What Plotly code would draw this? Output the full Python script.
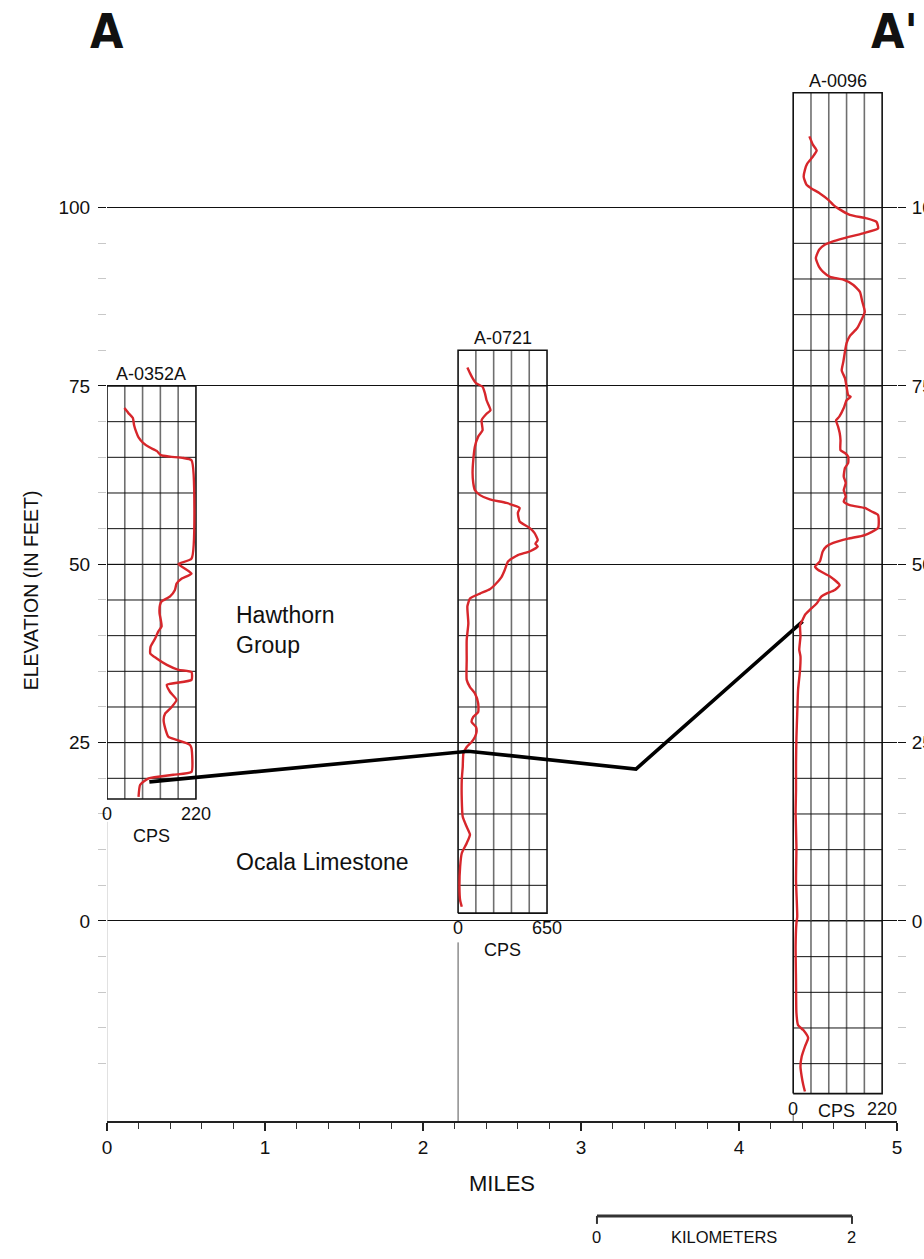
import plotly.graph_objects as go

# ---------------------------------------------------------------------------
# Data
# ---------------------------------------------------------------------------
well_names = ["A-0352A", "A-0721", "A-0096"]
well_miles = [0.0, 2.222, 4.343]          # distance along section (miles)
well_top_ft = [75.0, 80.0, 116.1]         # top of each log panel (feet)
well_bottom_ft = [17.1, 1.1, -24.2]       # bottom of each log panel (feet)
cps_full_scale = [220, 650, 220]          # natural gamma full-scale (CPS)

# Natural gamma log, A-0352A
a0352a_elev = [71.9, 71.2, 70.5, 69.5, 68.6, 67.8, 67.0, 66.4, 65.9, 65.3, 65.1, 64.9,
               64.6, 50.8, 50.05, 48.7, 48.0, 47.3, 46.4, 45.5, 44.8, 44.3, 43.1, 42.2,
               41.3, 40.6, 39.6, 38.5, 37.5, 36.8, 35.9, 35.2, 34.9, 33.8, 33.1, 32.1,
               31.0, 30.0, 29.1, 28.2, 27.0, 25.8, 25.4, 24.7, 24.2, 20.9, 20.5, 20.0,
               19.1, 17.4]
a0352a_cps = [43, 53, 64, 67, 72, 78, 90, 105, 123, 133, 156, 189,
              209, 209, 177, 209, 185, 172, 168, 156, 135, 131, 130, 133,
              135, 127, 119, 108, 107, 123, 148, 177, 209, 209, 148, 156,
              172, 160, 144, 140, 144, 152, 172, 205, 209, 209, 164, 103,
              82, 78]

# Natural gamma log, A-0721
a0721_elev = [77.6, 76.8, 76.1, 75.4, 74.9, 74.0, 73.0, 71.6, 71.1, 70.2, 68.8, 67.9,
              66.5, 64.6, 62.8, 61.4, 60.4, 59.7, 59.1, 58.6, 57.9, 57.2, 56.0, 55.1,
              54.4, 53.4, 52.9, 52.5, 51.8, 51.3, 50.4, 49.2, 48.2, 47.1, 46.5, 45.9,
              45.2, 44.1, 41.7, 39.4, 36.6, 33.8, 32.8, 31.9, 30.5, 29.3, 28.6, 27.9,
              27.2, 26.5, 25.8, 25.1, 24.4, 23.5, 21.6, 19.8, 17.0, 14.6, 13.2, 12.1,
              10.9, 9.5, 7.6, 4.8, 2.9, 2.0]
a0721_cps = [68, 87, 106, 131, 179, 196, 208, 237, 208, 172, 179, 147,
             123, 111, 106, 111, 123, 160, 232, 353, 450, 437, 450, 522,
             558, 582, 565, 582, 522, 437, 365, 341, 317, 268, 232, 160,
             87, 68, 75, 63, 63, 63, 87, 123, 147, 147, 111, 99,
             131, 135, 123, 99, 63, 39, 34, 27, 27, 34, 63, 87,
             63, 27, 15, 10, 15, 27]

# Natural gamma log, A-0096
a0096_elev = [110.0, 108.8, 108.0, 107.1, 106.2, 105.3, 104.3, 103.2, 102.7, 102.0, 101.1,
              100.4, 99.9, 99.0, 98.5, 98.0, 97.1, 96.4, 95.7, 95.2, 94.8, 94.1, 92.9,
              91.7, 91.0, 90.3, 89.9, 89.2, 88.2, 86.8, 85.4, 84.3, 83.1, 82.0, 81.0,
              79.8, 78.4, 77.2, 76.1, 74.9, 73.7, 73.5, 73.0, 71.9, 70.7, 70.2, 69.3,
              68.4, 67.4, 66.0, 65.6, 65.1, 64.2, 63.5, 62.3, 61.4, 60.4, 59.5, 58.8,
              58.3, 57.9, 57.4, 56.9, 55.1, 54.1, 53.6, 53.0, 52.5, 51.8, 50.4, 49.7,
              49.2, 48.3, 47.1, 46.4, 45.9, 45.5, 44.5, 43.6, 42.9, 42.2, 41.5, 39.9,
              38.0, 37.1, 35.2, 32.4, 29.1, 25.8, 22.1, 18.4, 15.1, 10.4, 5.7, 0.6,
              -0.3, -3.6, -8.3, -12.9, -14.6, -15.3, -16.4, -17.6, -19.0, -20.4, -21.8,
              -23.0, -23.9]
a0096_cps = [40, 49, 58, 48, 35, 29, 26, 33, 45, 66, 87,
             99, 111, 140, 181, 206, 210, 173, 124, 95, 78, 64, 56,
             64, 74, 91, 124, 148, 165, 171, 177, 169, 158, 140, 132,
             128, 124, 120, 128, 132, 136, 142, 132, 125, 114, 106, 111,
             115, 117, 117, 128, 136, 136, 128, 125, 130, 125, 130, 125,
             140, 177, 194, 210, 210, 177, 136, 99, 82, 73, 66, 54,
             62, 91, 115, 103, 82, 70, 58, 41, 29, 23, 17, 18,
             15, 18, 17, 12, 10, 8, 7, 7, 6, 8, 7, 10,
             8, 6, 7, 8, 12, 25, 37, 29, 21, 18, 21,
             25, 29]

log_elev = [a0352a_elev, a0721_elev, a0096_elev]
log_cps = [a0352a_cps, a0721_cps, a0096_cps]

# Hawthorn Group / Ocala Limestone contact
contact_miles = [0.268, 2.287, 3.348, 4.403]
contact_elev = [19.5, 23.8, 21.3, 42.0]

elev_ticks = [0, 25, 50, 75, 100]
elev_minor_ticks = [v for v in range(-25, 100, 5) if v % 25 != 0]
mile_ticks = [0, 1, 2, 3, 4, 5]

# ---------------------------------------------------------------------------
# Styling / geometry
# ---------------------------------------------------------------------------
FONT = "Liberation Sans, Arial, sans-serif"
CONDENSED = "Liberation Sans Narrow, DejaVu Sans Condensed, Arial Narrow, Liberation Sans, sans-serif"
RED = "#d7262b"
LOG_WIDTH_MI = 0.563
Y_MIN, Y_MAX = -28.04, 120.7

fig = go.Figure()

for i, name in enumerate(well_names):
    x0 = well_miles[i]
    x1 = x0 + LOG_WIDTH_MI
    top, bot = well_top_ft[i], well_bottom_ft[i]
    yax = "y2" if i == 2 else "y"

    # inner scale divisions (grey verticals)
    vx, vy = [], []
    for k in range(1, 5):
        xv = x0 + LOG_WIDTH_MI * k / 5
        vx += [xv, xv, None]
        vy += [bot, top, None]
    fig.add_trace(go.Scatter(x=vx, y=vy, mode="lines", yaxis=yax,
                             line=dict(color="#6f6f6f", width=1.6),
                             hoverinfo="skip", showlegend=False))
    # 5-ft depth divisions
    hx, hy = [], []
    for v in range(-30, 105, 5):
        if bot < v < top:
            hx += [x0, x1, None]
            hy += [v, v, None]
    fig.add_trace(go.Scatter(x=hx, y=hy, mode="lines", yaxis=yax,
                             line=dict(color="#111111", width=1),
                             hoverinfo="skip", showlegend=False))
    # panel outline
    fig.add_trace(go.Scatter(x=[x0, x1, x1, x0, x0], y=[bot, bot, top, top, bot],
                             mode="lines", yaxis=yax,
                             line=dict(color="#111111", width=1.6),
                             hoverinfo="skip", showlegend=False))
    # gamma curve
    gx = [x0 + c / cps_full_scale[i] * LOG_WIDTH_MI for c in log_cps[i]]
    fig.add_trace(go.Scatter(x=gx, y=log_elev[i], mode="lines", yaxis=yax,
                             line=dict(color=RED, width=2.4, shape="spline", smoothing=0.5),
                             name=name, showlegend=False))

    # well name above the panel
    fig.add_annotation(x=x0 + LOG_WIDTH_MI / 2, y=top, xref="x", yref="y",
                       text=name, showarrow=False, yanchor="bottom", yshift=0,
                       font=dict(family=FONT, size=18, color="#111"))
    # CPS scale labels below the panel
    fig.add_annotation(x=x0, y=bot, xref="x", yref="y", text="0", showarrow=False,
                       yanchor="top", yshift=-3, font=dict(family=FONT, size=18, color="#111"))
    fig.add_annotation(x=x1, y=bot, xref="x", yref="y", text=str(cps_full_scale[i]),
                       showarrow=False, yanchor="top", yshift=-3,
                       font=dict(family=FONT, size=18, color="#111"))
    fig.add_annotation(x=x0 + LOG_WIDTH_MI / 2 - (0.01 if i == 2 else 0), y=bot,
                       xref="x", yref="y", text="CPS", showarrow=False, yanchor="top",
                       yshift=-5 if i == 2 else -25,
                       font=dict(family=FONT, size=18, color="#111"))

# stems from the panels down to the distance axis
stem_start = [13.9, -3.0, -27.0]
stem_color = ["#c4c4c4", "#555555", "#555555"]
for i in range(3):
    fig.add_shape(type="line", xref="x", yref="y", x0=well_miles[i], x1=well_miles[i],
                  y0=stem_start[i], y1=Y_MIN, line=dict(color=stem_color[i], width=1))

# contact between units
fig.add_trace(go.Scatter(x=contact_miles, y=contact_elev, mode="lines",
                         line=dict(color="#000000", width=3.6),
                         hoverinfo="skip", showlegend=False))

# unit names
fig.add_annotation(x=0.805, y=40.8, xref="x", yref="y", text="Hawthorn<br>Group",
                   showarrow=False, xanchor="left", align="left",
                   font=dict(family=FONT, size=23, color="#111"))
fig.add_annotation(x=0.805, y=8.3, xref="x", yref="y", text="Ocala Limestone",
                   showarrow=False, xanchor="left",
                   font=dict(family=FONT, size=23, color="#111"))

# section end labels
fig.add_annotation(x=0.0, y=1.0273, xref="x", yref="paper", text="<b>A</b>",
                   showarrow=False, xanchor="center", yanchor="middle",
                   font=dict(family=CONDENSED, size=48, color="#111"))
fig.add_annotation(x=1.0295, y=1.0273, xref="paper", yref="paper", text="<b>A'</b>",
                   showarrow=False, xanchor="right", yanchor="middle",
                   font=dict(family=CONDENSED, size=48, color="#111"))

# kilometre scale bar
km_x0, km_x1 = 3.101, 4.715
bar_y, tick_y = -0.0895, -0.097
fig.add_shape(type="line", xref="x", yref="paper", x0=km_x0, x1=km_x1, y0=bar_y, y1=bar_y,
              line=dict(color="#333", width=3))
for xv in (km_x0, km_x1):
    fig.add_shape(type="line", xref="x", yref="paper", x0=xv, x1=xv, y0=bar_y, y1=tick_y,
                  line=dict(color="#333", width=2))
for xv, txt in ((km_x0, "0"), ((km_x0 + km_x1) / 2, "KILOMETERS"), (km_x1, "2")):
    fig.add_annotation(x=xv, y=-0.1093, xref="x", yref="paper", text=txt, showarrow=False,
                       yanchor="middle", font=dict(family=FONT, size=16.5, color="#111"))

minor_y = dict(tickmode="array", tickvals=elev_minor_ticks, ticks="outside", ticklen=8,
               tickwidth=1.2, tickcolor="#c8c8c8", showgrid=False)

fig.update_layout(
    width=924, height=1259,
    margin=dict(l=107, r=27, t=60, b=138),
    paper_bgcolor="white", plot_bgcolor="white",
    font=dict(family=FONT, color="#111"),
    showlegend=False,
    xaxis=dict(range=[0, 5], tickvals=mile_ticks, ticks="outside", ticklen=8,
               tickwidth=1.5, tickcolor="#222", showline=True, linewidth=2,
               linecolor="#222", showgrid=False, zeroline=False, automargin=False,
               minor=dict(dtick=0.2, tick0=0, ticks="outside", ticklen=6, tickwidth=1.2,
                          tickcolor="#333", showgrid=False),
               tickfont=dict(family=FONT, size=19, color="#111"),
               title=dict(text="MILES", font=dict(family=FONT, size=22, color="#111"),
                          standoff=19)),
    yaxis=dict(range=[Y_MIN, Y_MAX], tickvals=elev_ticks, ticks="outside", ticklen=8,
               tickwidth=1, tickcolor="#111", showgrid=True, gridcolor="#111",
               gridwidth=1, zeroline=False, showline=False, automargin=False,
               minor=minor_y, ticklabelstandoff=4,
               tickfont=dict(family=FONT, size=19, color="#111"),
               title=dict(text="ELEVATION (IN FEET)",
                          font=dict(family=FONT, size=19.5, color="#111"), standoff=14)),
    yaxis2=dict(range=[Y_MIN, Y_MAX], overlaying="y", side="right", tickvals=elev_ticks,
                ticks="outside", ticklen=8, tickwidth=1, tickcolor="#111",
                showgrid=False, zeroline=False, showline=False, automargin=False,
                minor=minor_y, ticklabelstandoff=2,
                tickfont=dict(family=FONT, size=19, color="#111")),
)

fig.write_html("out.html")
